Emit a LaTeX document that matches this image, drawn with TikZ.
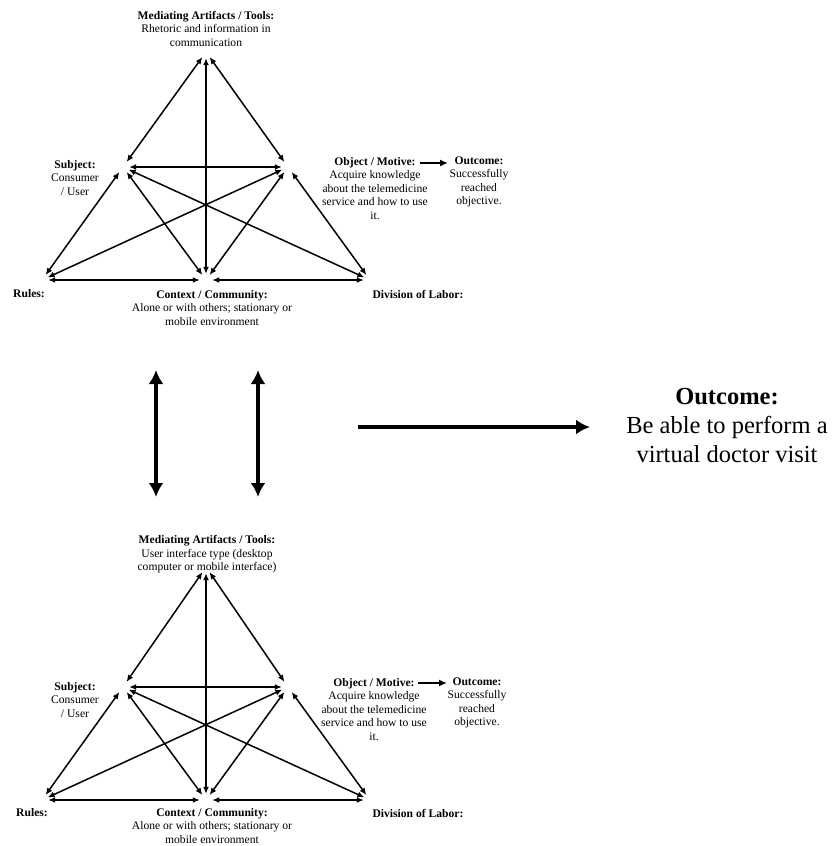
\documentclass[tikz,border=0pt]{standalone}
\usepackage{fontspec}
\setmainfont{Liberation Serif}
\usetikzlibrary{arrows.meta}

\tikzset{
  vtx/.style={circle, inner sep=0pt, minimum size=12pt},
  rel/.style={line width=1.5pt,
    {Latex[length=7pt,width=6pt]}-{Latex[length=7pt,width=6pt]}},
  lbl/.style={align=center, inner sep=0pt,
    font=\fontsize{11.6}{13.5}\selectfont},
  biglbl/.style={align=center, inner sep=0pt,
    font=\fontsize{24.5}{29}\selectfont},
  toout/.style={line width=1.6pt, -{Latex[length=8pt,width=7pt]}},
  bigarrow/.style={line width=3.5pt, -{Latex[length=14pt,width=15pt]}},
  bigdouble/.style={line width=3.5pt,
    {Latex[length=14pt,width=15pt]}-{Latex[length=14pt,width=15pt]}},
  % activity triangle; the argument lifts the apex
  pics/activity/.style={code={
    \node[vtx] (-apex)  at (206,{52-#1}) {};
    \node[vtx] (-subj)  at (123,167) {};
    \node[vtx] (-obj)   at (288,167) {};
    \node[vtx] (-rules) at (42,280) {};
    \node[vtx] (-ctx)   at (206,280) {};
    \node[vtx] (-div)   at (370,280) {};
    \draw[rel] (-apex) -- (-subj);
    \draw[rel] (-apex) -- (-obj);
    \draw[rel] (-apex) -- (-ctx);
    \draw[rel] (-subj) -- (-obj);
    \draw[rel] (-subj) -- (-rules);
    \draw[rel] (-subj) -- (-ctx);
    \draw[rel] (-subj) -- (-div);
    \draw[rel] (-obj) -- (-rules);
    \draw[rel] (-obj) -- (-ctx);
    \draw[rel] (-obj) -- (-div);
    \draw[rel] (-rules) -- (-ctx);
    \draw[rel] (-ctx) -- (-div);
  }}
}

\begin{document}
\begin{tikzpicture}[x=1pt,y=-1pt]
  \fill[white] (0,0) rectangle (838,846);
  \useasboundingbox (0,0) rectangle (838,846);

  % upper activity system
  \pic (top) at (0,0) {activity=0};
  \node[lbl] (tmed) at (206,28.5)
    {\textbf{Mediating Artifacts / Tools:}\\Rhetoric and information in\\communication};
  \node[lbl] (tsubj) at (75,178) {\textbf{Subject:}\\Consumer\\/ User};
  \node[lbl] (tobj) at (375,188.5)
    {\textbf{Object / Motive:}\\Acquire knowledge\\about the telemedicine\\service and how to use\\it.};
  \node[lbl] (tout) at (479,182) {\textbf{Outcome:}\\Successfully\\reached\\objective.};
  \coordinate (toa) at (420,163);
  \coordinate (tob) at (448,163);
  \draw[toout] (toa) -- (tob);
  \node[lbl] (trules) at (29,294) {\textbf{Rules:}};
  \node[lbl] (tctx) at (212,308)
    {\textbf{Context / Community:}\\Alone or with others; stationary or\\mobile environment};
  \node[lbl] (tdiv) at (418,294) {\textbf{Division of Labor:}};

  % lower activity system
  \pic (bot) at (0,520) {activity=5};
  \node[lbl] (bmed) at (207,554.5)
    {\textbf{Mediating Artifacts / Tools:}\\User interface type (desktop\\computer or mobile interface)};
  \node[lbl] (bsubj) at (75,700) {\textbf{Subject:}\\Consumer\\/ User};
  \node[lbl] (bobj) at (374,709.5)
    {\textbf{Object / Motive:}\\Acquire knowledge\\about the telemedicine\\service and how to use\\it.};
  \node[lbl] (bout) at (477,703) {\textbf{Outcome:}\\Successfully\\reached\\objective.};
  \coordinate (boa) at (418,683);
  \coordinate (bob) at (447,683);
  \draw[toout] (boa) -- (bob);
  \node[lbl] (brules) at (32,813) {\textbf{Rules:}};
  \node[lbl] (bctx) at (212,826)
    {\textbf{Context / Community:}\\Alone or with others; stationary or\\mobile environment};
  \node[lbl] (bdiv) at (418,813) {\textbf{Division of Labor:}};

  % links between the two systems
  \coordinate (l1) at (156,370);
  \coordinate (l2) at (156,497);
  \coordinate (r1) at (258,370);
  \coordinate (r2) at (258,497);
  \draw[bigdouble] (l1) -- (l2);
  \draw[bigdouble] (r1) -- (r2);

  % overall outcome
  \coordinate (oa) at (358,427);
  \coordinate (ob) at (590,427);
  \draw[bigarrow] (oa) -- (ob);
  \node[biglbl] (final) at (727,426)
    {\textbf{Outcome:}\\Be able to perform a\\virtual doctor visit};
\end{tikzpicture}
\end{document}
